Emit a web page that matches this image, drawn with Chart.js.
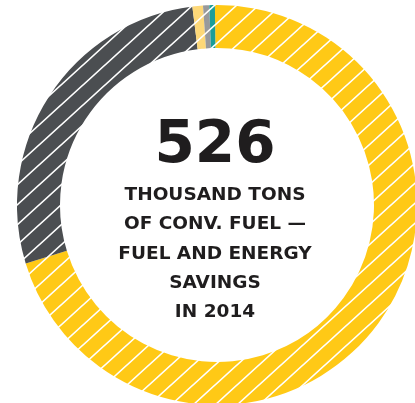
<!DOCTYPE html>
<html>
<head>
<meta charset="utf-8">
<script src="https://cdn.jsdelivr.net/npm/chart.js@4"></script>
<style>
  html, body { margin: 0; padding: 0; background: #ffffff; width: 415px; height: 403px; overflow: hidden; }
  #wrap { position: absolute; left: 17px; top: 5px; width: 400px; height: 400px; }
  .big { position: absolute; left: 0; width: 430px; text-align: center; top: 113px;
         font-family: "DejaVu Sans", sans-serif; font-weight: bold; font-size: 58px; line-height: 58px; color: #1f1d1e; }
  .sub { position: absolute; left: 0; width: 430px; text-align: center; top: 179px;
         font-family: "DejaVu Sans", sans-serif; font-weight: bold; font-size: 18.5px; line-height: 29.25px; color: #1f1d1e; }
</style>
</head>
<body>
<div id="wrap"><canvas id="c"></canvas></div>
<div class="big">526</div>
<div class="sub">THOUSAND TONS<br>OF CONV. FUEL —<br>FUEL AND ENERGY<br>SAVINGS<br>IN 2014</div>
<script>
const categories = ["Segment 1", "Segment 2", "Segment 3", "Segment 4", "Segment 5"];
const shares = [70.45, 27.75, 0.85, 0.5, 0.45];
const segmentColors = ["#ffc916", "#4b4e51", "#fdd878", "#98999b", "#1b9d98"];

function hatch(color) {
  const w = 22, h = 20;
  const c = document.createElement("canvas");
  c.width = w; c.height = h;
  const g = c.getContext("2d");
  g.fillStyle = color;
  g.fillRect(0, 0, w, h);
  g.strokeStyle = "#ffffff";
  g.lineWidth = 1.6;
  g.beginPath();
  for (let k = -1; k <= 1; k++) {
    // line: x/w + y/h = 1 + k
    const x0 = -w, y0 = h * (1 + k - x0 / w);
    const x1 = 2 * w, y1 = h * (1 + k - x1 / w);
    g.moveTo(x0, y0); g.lineTo(x1, y1);
  }
  g.stroke();
  return g.createPattern(c, "repeat");
}

new Chart(document.getElementById("c"), {
  type: "doughnut",
  data: {
    labels: categories,
    datasets: [{
      data: shares,
      backgroundColor: segmentColors.map(hatch),
      borderWidth: 0
    }]
  },
  options: {
    responsive: true,
    maintainAspectRatio: false,
    animation: false,
    events: [],
    rotation: -0.6,
    cutout: "78.5%",
    layout: { padding: 0 },
    plugins: { legend: { display: false }, tooltip: { enabled: false } }
  }
});
</script>
</body>
</html>
